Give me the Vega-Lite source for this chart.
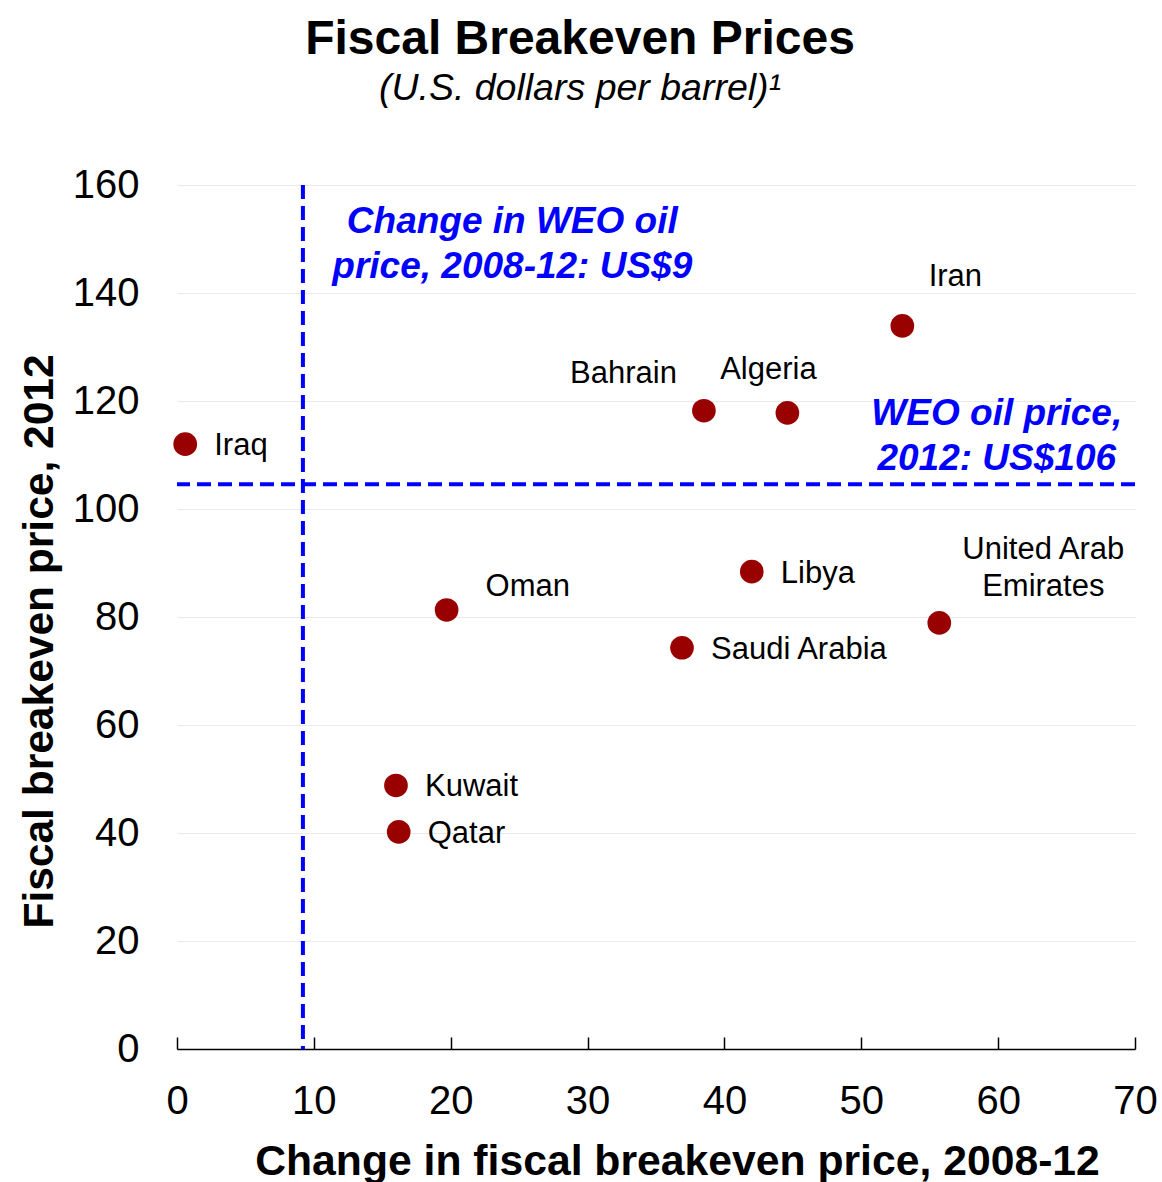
{
  "$schema": "https://vega.github.io/schema/vega-lite/v6.json",
  "width": 958,
  "height": 864,
  "autosize": {"type": "none"},
  "padding": {"left": 177, "top": 185, "right": 27, "bottom": 133},
  "background": "white",
  "title": {
    "text": "Fiscal Breakeven Prices",
    "subtitle": "(U.S. dollars per barrel)¹",
    "anchor": "middle",
    "dx": -76,
    "offset": 58,
    "font": "Liberation Sans",
    "fontSize": 48,
    "fontWeight": "bold",
    "color": "black",
    "subtitleFont": "Liberation Sans",
    "subtitleFontSize": 37.5,
    "subtitleFontStyle": "italic",
    "subtitleColor": "black",
    "subtitlePadding": 6
  },
  "config": {"view": {"stroke": null}, "font": "Liberation Sans"},
  "datasets": {
    "countries": [
      {"country": "Iraq", "change_2008_12": 0.6, "breakeven_2012": 112.0},
      {"country": "Bahrain", "change_2008_12": 38.5, "breakeven_2012": 118.2},
      {"country": "Algeria", "change_2008_12": 44.6, "breakeven_2012": 117.8},
      {"country": "Iran", "change_2008_12": 53.0, "breakeven_2012": 133.9},
      {"country": "Libya", "change_2008_12": 42.0, "breakeven_2012": 88.4},
      {"country": "Oman", "change_2008_12": 19.7, "breakeven_2012": 81.3},
      {"country": "Saudi Arabia", "change_2008_12": 36.9, "breakeven_2012": 74.3},
      {"country": "United Arab Emirates", "change_2008_12": 55.7, "breakeven_2012": 78.9},
      {"country": "Kuwait", "change_2008_12": 16.0, "breakeven_2012": 48.8},
      {"country": "Qatar", "change_2008_12": 16.2, "breakeven_2012": 40.2}
    ],
    "reference": [
      {"weo_oil_price_change_2008_12": 9.2, "weo_oil_price_2012": 104.6}
    ]
  },
  "layer": [
    {
      "data": {"name": "countries"},
      "mark": {"type": "circle", "size": 560, "color": "#990000", "opacity": 1},
      "encoding": {
        "x": {
          "field": "change_2008_12",
          "type": "quantitative",
          "scale": {"domain": [0, 70], "nice": false, "zero": false},
          "axis": {
            "title": "Change in fiscal breakeven price, 2008-12",
            "values": [0, 10, 20, 30, 40, 50, 60, 70],
            "grid": false,
            "domainColor": "black",
            "domainWidth": 1.5,
            "tickColor": "black",
            "tickWidth": 1.5,
            "tickSize": -12,
            "labelFontSize": 40,
            "labelColor": "black",
            "labelFont": "Liberation Sans",
            "labelPadding": 44,
            "labelFlush": false,
            "labelOverlap": false,
            "titleFont": "Liberation Sans",
            "titleFontSize": 42.7,
            "titleFontWeight": "bold",
            "titleColor": "black",
            "titleX": 500,
            "titleY": 125,
            "titleAlign": "center",
            "titleBaseline": "alphabetic"
          }
        },
        "y": {
          "field": "breakeven_2012",
          "type": "quantitative",
          "scale": {"domain": [0, 160], "nice": false, "zero": false},
          "axis": {
            "title": "Fiscal breakeven price, 2012",
            "values": [0, 20, 40, 60, 80, 100, 120, 140, 160],
            "grid": true,
            "gridColor": "#e9e9e9",
            "gridWidth": 1,
            "domain": false,
            "ticks": false,
            "tickSize": 0,
            "labelFontSize": 40,
            "labelColor": "black",
            "labelFont": "Liberation Sans",
            "labelPadding": 38,
            "labelFlush": false,
            "labelOverlap": false,
            "titleFont": "Liberation Sans",
            "titleFontSize": 42.5,
            "titleFontWeight": "bold",
            "titleColor": "black",
            "titleAngle": -90,
            "titleX": -125,
            "titleY": 456,
            "titleAlign": "center",
            "titleBaseline": "alphabetic"
          }
        }
      }
    },
    {
      "data": {"name": "reference"},
      "mark": {"type": "rule", "color": "#0000ff", "strokeWidth": 4, "strokeDash": [14, 7]},
      "encoding": {
        "x": {"field": "weo_oil_price_change_2008_12", "type": "quantitative", "title": "Change in fiscal breakeven price, 2008-12"}
      }
    },
    {
      "data": {"name": "reference"},
      "mark": {"type": "rule", "color": "#0000ff", "strokeWidth": 4, "strokeDash": [14, 7]},
      "encoding": {
        "y": {"field": "weo_oil_price_2012", "type": "quantitative", "title": "Fiscal breakeven price, 2012"}
      }
    },
    {
      "data": {"name": "reference"},
      "mark": {
        "type": "text",
        "text": ["Change in WEO oil", "price, 2008-12: US$9"],
        "font": "Liberation Sans",
        "fontSize": 37,
        "fontWeight": "bold",
        "fontStyle": "italic",
        "color": "#0000ff",
        "align": "center",
        "baseline": "middle",
        "lineHeight": 45,
        "dy": -20
      },
      "encoding": {
        "x": {"datum": 24.5, "type": "quantitative", "title": "Change in fiscal breakeven price, 2008-12"},
        "y": {"datum": 149.4, "type": "quantitative", "title": "Fiscal breakeven price, 2012"}
      }
    },
    {
      "data": {"name": "reference"},
      "mark": {
        "type": "text",
        "text": ["WEO oil price,", "2012: US$106"],
        "font": "Liberation Sans",
        "fontSize": 37,
        "fontWeight": "bold",
        "fontStyle": "italic",
        "color": "#0000ff",
        "align": "center",
        "baseline": "middle",
        "lineHeight": 45,
        "dy": -20
      },
      "encoding": {
        "x": {"datum": 59.9, "type": "quantitative", "title": "Change in fiscal breakeven price, 2008-12"},
        "y": {"datum": 113.8, "type": "quantitative", "title": "Fiscal breakeven price, 2012"}
      }
    },
    {
      "data": {"name": "countries"},
      "transform": [{"filter": {"field": "country", "oneOf": ["Iraq", "Libya", "Saudi Arabia", "Kuwait", "Qatar"]}}],
      "mark": {"type": "text", "font": "Liberation Sans", "fontSize": 31, "color": "black", "align": "left", "baseline": "middle", "dx": 29, "dy": 2},
      "encoding": {
        "x": {"field": "change_2008_12", "type": "quantitative", "title": "Change in fiscal breakeven price, 2008-12"},
        "y": {"field": "breakeven_2012", "type": "quantitative", "title": "Fiscal breakeven price, 2012"},
        "text": {"field": "country"}
      }
    },
    {
      "data": {"name": "countries"},
      "transform": [{"filter": {"field": "country", "equal": "Oman"}}],
      "mark": {"type": "text", "font": "Liberation Sans", "fontSize": 31, "color": "black", "align": "left", "baseline": "middle", "dx": 39, "dy": -23},
      "encoding": {
        "x": {"field": "change_2008_12", "type": "quantitative", "title": "Change in fiscal breakeven price, 2008-12"},
        "y": {"field": "breakeven_2012", "type": "quantitative", "title": "Fiscal breakeven price, 2012"},
        "text": {"field": "country"}
      }
    },
    {
      "data": {"name": "countries"},
      "transform": [{"filter": {"field": "country", "equal": "Bahrain"}}],
      "mark": {"type": "text", "font": "Liberation Sans", "fontSize": 31, "color": "black", "align": "right", "baseline": "middle", "dx": -27, "dy": -37},
      "encoding": {
        "x": {"field": "change_2008_12", "type": "quantitative", "title": "Change in fiscal breakeven price, 2008-12"},
        "y": {"field": "breakeven_2012", "type": "quantitative", "title": "Fiscal breakeven price, 2012"},
        "text": {"field": "country"}
      }
    },
    {
      "data": {"name": "countries"},
      "transform": [{"filter": {"field": "country", "equal": "Algeria"}}],
      "mark": {"type": "text", "font": "Liberation Sans", "fontSize": 31, "color": "black", "align": "center", "baseline": "middle", "dx": -19, "dy": -43},
      "encoding": {
        "x": {"field": "change_2008_12", "type": "quantitative", "title": "Change in fiscal breakeven price, 2008-12"},
        "y": {"field": "breakeven_2012", "type": "quantitative", "title": "Fiscal breakeven price, 2012"},
        "text": {"field": "country"}
      }
    },
    {
      "data": {"name": "countries"},
      "transform": [{"filter": {"field": "country", "equal": "Iran"}}],
      "mark": {"type": "text", "font": "Liberation Sans", "fontSize": 31, "color": "black", "align": "center", "baseline": "middle", "dx": 53, "dy": -49},
      "encoding": {
        "x": {"field": "change_2008_12", "type": "quantitative", "title": "Change in fiscal breakeven price, 2008-12"},
        "y": {"field": "breakeven_2012", "type": "quantitative", "title": "Fiscal breakeven price, 2012"},
        "text": {"field": "country"}
      }
    },
    {
      "data": {"name": "countries"},
      "transform": [{"filter": {"field": "country", "equal": "United Arab Emirates"}}],
      "mark": {"type": "text", "font": "Liberation Sans", "fontSize": 31, "color": "black", "align": "center", "baseline": "middle", "dx": 104, "dy": -73, "lineHeight": 37, "text": ["United Arab", "Emirates"]},
      "encoding": {
        "x": {"field": "change_2008_12", "type": "quantitative", "title": "Change in fiscal breakeven price, 2008-12"},
        "y": {"field": "breakeven_2012", "type": "quantitative", "title": "Fiscal breakeven price, 2012"}
      }
    }
  ]
}
